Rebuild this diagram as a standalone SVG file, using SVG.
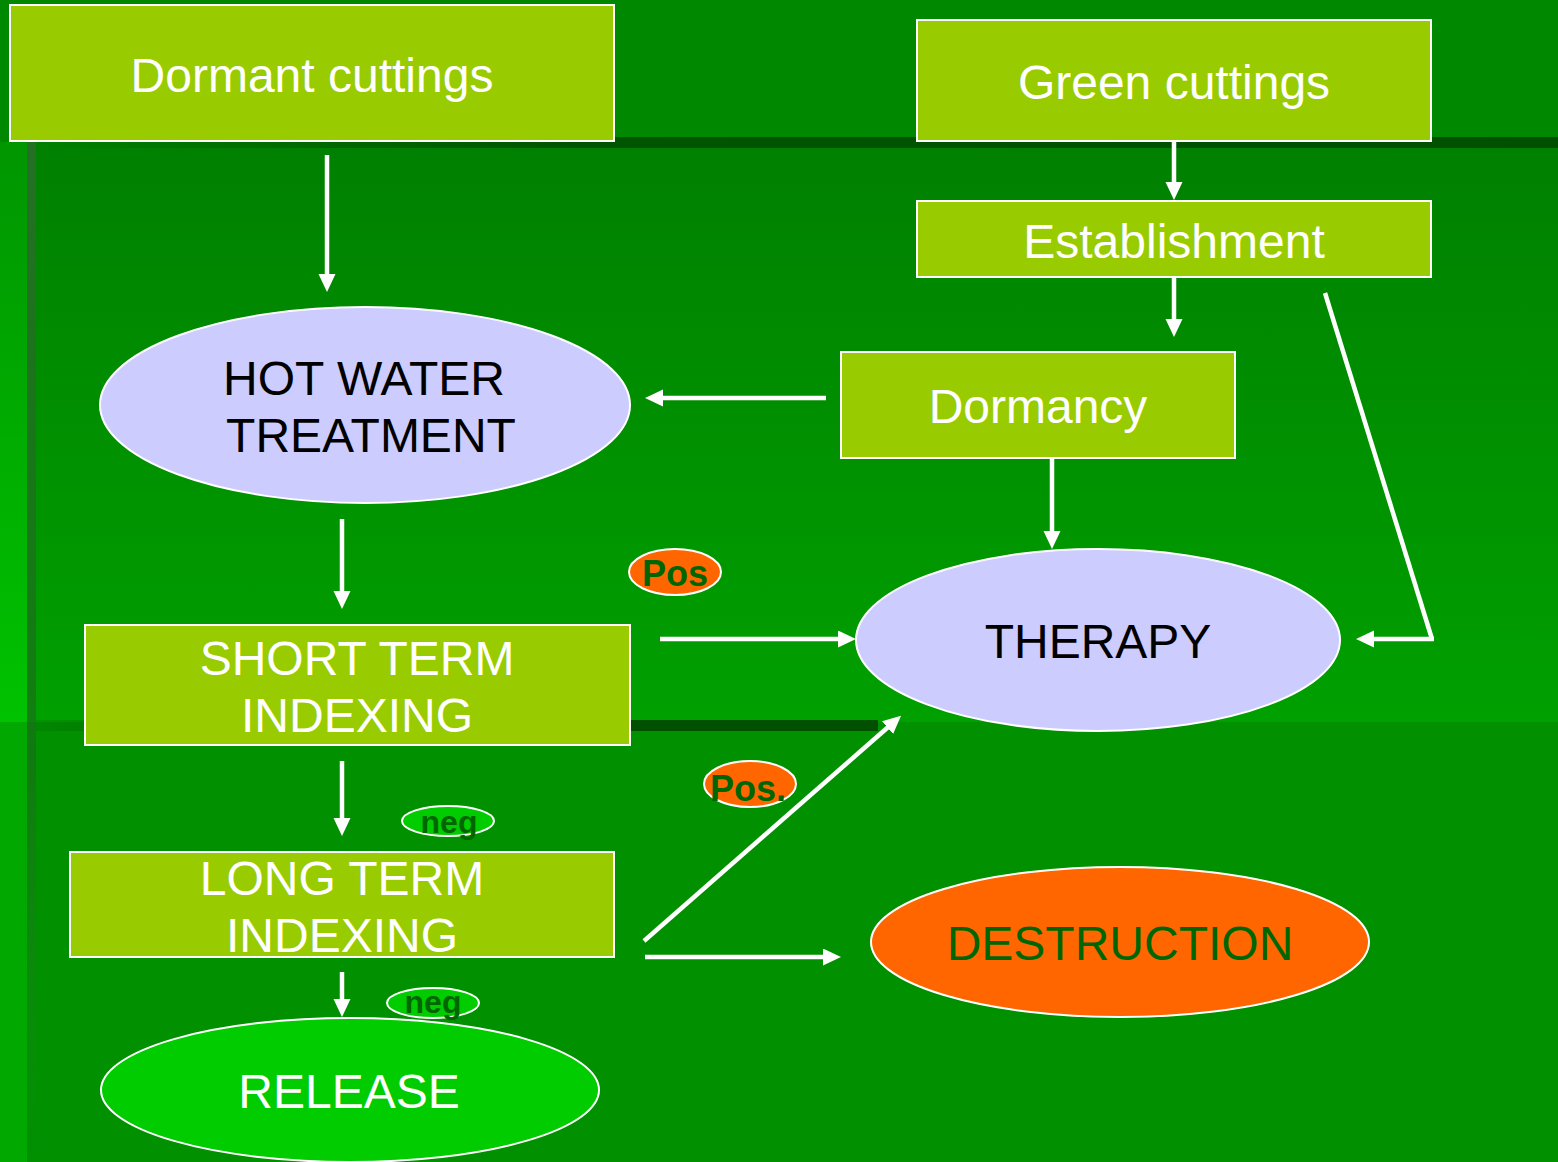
<svg xmlns="http://www.w3.org/2000/svg" width="1558" height="1162" viewBox="0 0 1558 1162">
  <defs>
    <linearGradient id="gMid" x1="0" y1="0" x2="0" y2="1">
      <stop offset="0" stop-color="#008000"/>
      <stop offset="1" stop-color="#00a000"/>
    </linearGradient>
    <linearGradient id="gLeft" x1="0" y1="0" x2="0" y2="1">
      <stop offset="0" stop-color="#009600"/>
      <stop offset="1" stop-color="#00c200"/>
    </linearGradient>
    <linearGradient id="gBandTop" x1="0" y1="0" x2="1" y2="0">
      <stop offset="0" stop-color="#005000" stop-opacity="0"/>
      <stop offset="0.35" stop-color="#005000" stop-opacity="0.9"/>
      <stop offset="1" stop-color="#005000" stop-opacity="1"/>
    </linearGradient>
    <linearGradient id="gBandLow" x1="0" y1="0" x2="1" y2="0">
      <stop offset="0" stop-color="#005000" stop-opacity="0.15"/>
      <stop offset="0.6" stop-color="#005000" stop-opacity="1"/>
      <stop offset="1" stop-color="#005000" stop-opacity="1"/>
    </linearGradient>
    <linearGradient id="gVLine" x1="0" y1="0" x2="0" y2="1">
      <stop offset="0" stop-color="#2a6e2a" stop-opacity="0.9"/>
      <stop offset="0.6" stop-color="#1a6a1a" stop-opacity="0.6"/>
      <stop offset="1" stop-color="#2a8a2a" stop-opacity="0"/>
    </linearGradient>
    <marker id="arr" markerUnits="userSpaceOnUse" markerWidth="20" markerHeight="18" refX="4" refY="8.5" orient="auto">
      <path d="M0,0 L18,8.5 L0,17 z" fill="#ffffff"/>
    </marker>
    <style>
      .box { fill: #99cc00; stroke: #ffffff; stroke-width: 2; }
      .ell { stroke: #ffffff; stroke-width: 2; }
      .lav { fill: #ccccff; }
      .txt { font-family: "Liberation Sans", Arial, sans-serif; font-size: 48px; text-anchor: middle; }
      .w { fill: #ffffff; }
      .k { fill: #000000; }
      .lbl { font-family: "Liberation Sans", Arial, sans-serif; font-weight: bold; fill: #006600; text-anchor: middle; }
      .con { stroke: #ffffff; stroke-width: 4.5; fill: none; }
      .conA { stroke: #ffffff; stroke-width: 4.5; fill: none; marker-end: url(#arr); }
    </style>
  </defs>

  <!-- background -->
  <g id="background">
    <rect x="0" y="0" width="1558" height="1162" fill="#008c00"/>
    <rect x="0" y="0" width="1558" height="142" fill="#008800"/>
    <rect x="0" y="142" width="1558" height="580" fill="url(#gMid)"/>
    <rect x="0" y="722" width="1558" height="440" fill="#009000"/>
    <rect x="0" y="142" width="27" height="580" fill="url(#gLeft)"/>
    <rect x="0" y="722" width="27" height="440" fill="#00a800"/>
    <rect x="27" y="142" width="9" height="1020" fill="url(#gVLine)"/>
    <rect x="36" y="137" width="1522" height="11" fill="url(#gBandTop)"/>
    <rect x="36" y="720" width="842" height="11" fill="url(#gBandLow)"/>
  </g>

  <!-- connectors -->
  <g id="connectors">
    <line class="conA" x1="327" y1="155" x2="327" y2="278"/>
    <line class="conA" x1="1174" y1="141" x2="1174" y2="186"/>
    <line class="conA" x1="1174" y1="277" x2="1174" y2="323"/>
    <line class="conA" x1="826" y1="398" x2="659" y2="398"/>
    <line class="conA" x1="1052" y1="458" x2="1052" y2="535"/>
    <polyline class="con" points="1325,293 1432,639"/>
    <line class="conA" x1="1434" y1="639" x2="1370" y2="639"/>
    <line class="conA" x1="342" y1="519" x2="342" y2="595"/>
    <line class="conA" x1="660" y1="639" x2="842" y2="639"/>
    <line class="conA" x1="342" y1="761" x2="342" y2="822"/>
    <line class="conA" x1="644" y1="941" x2="890.5" y2="725"/>
    <line class="conA" x1="645" y1="957" x2="827" y2="957"/>
    <line class="conA" x1="342" y1="972" x2="342" y2="1003"/>
  </g>

  <!-- nodes -->
  <g id="dormant-cuttings">
    <rect class="box" x="10" y="5" width="604" height="136"/>
    <text class="txt w" x="312" y="92">Dormant cuttings</text>
  </g>
  <g id="green-cuttings">
    <rect class="box" x="917" y="20" width="514" height="121"/>
    <text class="txt w" x="1174" y="99">Green cuttings</text>
  </g>
  <g id="establishment">
    <rect class="box" x="917" y="201" width="514" height="76"/>
    <text class="txt w" x="1174" y="258">Establishment</text>
  </g>
  <g id="dormancy">
    <rect class="box" x="841" y="352" width="394" height="106"/>
    <text class="txt w" x="1038" y="423">Dormancy</text>
  </g>
  <g id="hot-water-treatment">
    <ellipse class="ell lav" cx="365" cy="405" rx="265" ry="98"/>
    <text class="txt k" x="364" y="395">HOT WATER</text>
    <text class="txt k" x="371" y="452">TREATMENT</text>
  </g>
  <g id="therapy">
    <ellipse class="ell lav" cx="1098" cy="640" rx="242" ry="91"/>
    <text class="txt k" x="1098" y="658">THERAPY</text>
  </g>
  <g id="short-term-indexing">
    <rect class="box" x="85" y="625" width="545" height="120"/>
    <text class="txt w" x="357" y="675">SHORT TERM</text>
    <text class="txt w" x="357" y="732">INDEXING</text>
  </g>
  <g id="long-term-indexing">
    <rect class="box" x="70" y="852" width="544" height="105"/>
    <text class="txt w" x="342" y="895">LONG TERM</text>
    <text class="txt w" x="342" y="952">INDEXING</text>
  </g>
  <g id="destruction">
    <ellipse class="ell" fill="#ff6600" cx="1120" cy="942" rx="249" ry="75"/>
    <text class="txt" fill="#006600" x="1120" y="960">DESTRUCTION</text>
  </g>
  <g id="release">
    <ellipse class="ell" fill="#00cc00" cx="350" cy="1090" rx="249" ry="72"/>
    <text class="txt w" x="349" y="1108">RELEASE</text>
  </g>

  <!-- labels -->
  <g id="label-pos-1">
    <ellipse class="ell" fill="#ff6600" cx="675" cy="572" rx="46" ry="23"/>
    <text class="lbl" font-size="36" x="675" y="586">Pos</text>
  </g>
  <g id="label-pos-2">
    <ellipse class="ell" fill="#ff6600" cx="750" cy="784" rx="46" ry="23"/>
    <text class="lbl" font-size="36" x="748" y="801">Pos.</text>
  </g>
  <g id="label-neg-1">
    <ellipse class="ell" fill="#00cc00" cx="448" cy="821" rx="46" ry="15"/>
    <text class="lbl" font-size="32" x="449" y="833">neg</text>
  </g>
  <g id="label-neg-2">
    <ellipse class="ell" fill="#00cc00" cx="433" cy="1003" rx="46" ry="15"/>
    <text class="lbl" font-size="32" x="433" y="1013">neg</text>
  </g>
</svg>
